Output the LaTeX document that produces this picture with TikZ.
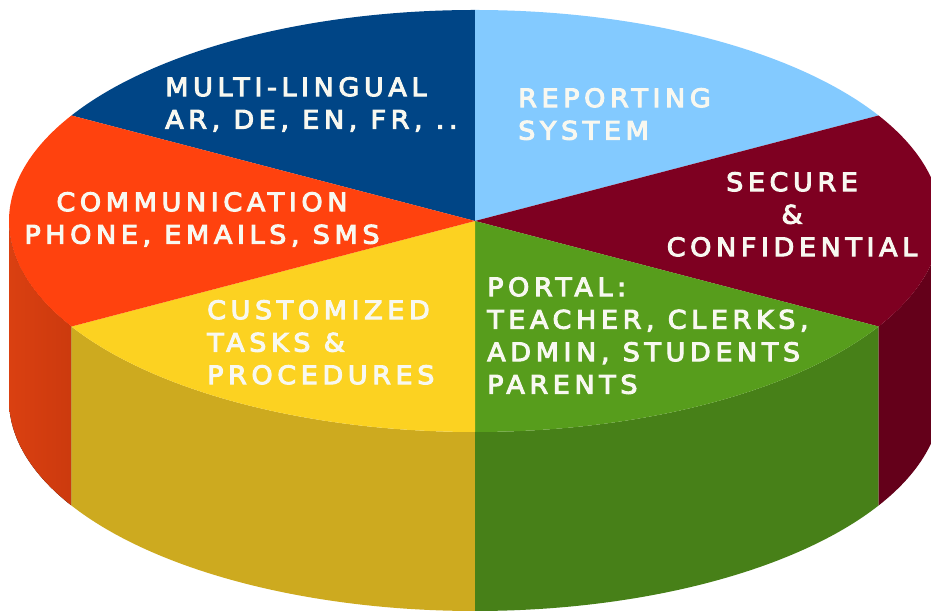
\documentclass[tikz,border=0pt]{standalone}
\usepackage{fontspec}
\usetikzlibrary{calc}
\newfontfamily\lblfont[LetterSpace=18,FakeBold=4,FakeStretch=1.06]{DejaVu Sans}
\definecolor{cblue}{HTML}{004586}
\definecolor{clight}{HTML}{83CAFF}
\definecolor{cmaroon}{HTML}{7E0021}
\definecolor{cgreen}{HTML}{579D1C}
\definecolor{cyellow}{HTML}{FCD221}
\definecolor{corange}{HTML}{FF420E}
\definecolor{sorange}{HTML}{CC3A0E}
\definecolor{sorangel}{HTML}{DA4011}
\definecolor{syellow}{HTML}{CDAA1F}
\definecolor{sgreen}{HTML}{478018}
\definecolor{smaroon}{HTML}{64001A}
\definecolor{txt}{HTML}{F8F8F0}
\tikzset{
  lbl/.style={text=txt, inner sep=0pt, font={\lblfont\fontsize{25.5}{32.5}\selectfont}},
}
\begin{document}
\begin{tikzpicture}[x=1pt,y=1pt]
\useasboundingbox (0,0) rectangle (931,615);
\clip (0,0) rectangle (931,615);
\fill[white] (0,0) rectangle (931,615);
\def\rx{466}\def\ry{211}\def\hh{179}
\coordinate (c) at (475,394);
% side walls
\fill[left color=sorangel, right color=sorange] ($(c)+(180:\rx pt and \ry pt)$) arc[start angle=180,end angle=210,x radius=\rx,y radius=\ry]
    -- ++(0,-\hh) arc[start angle=210,end angle=180,x radius=\rx,y radius=\ry] -- cycle;
\foreach \a/\b/\col in {210/270/syellow,270/330/sgreen,330/360/smaroon}{
  \fill[\col] ($(c)+(\a:\rx pt and \ry pt)$) arc[start angle=\a,end angle=\b,x radius=\rx,y radius=\ry]
    -- ++(0,-\hh) arc[start angle=\b,end angle=\a,x radius=\rx,y radius=\ry] -- cycle;
}
% top faces
\foreach \a/\b/\col in {90/150/cblue,30/90/clight,-30/30/cmaroon,-90/-30/cgreen,210/270/cyellow,150/210/corange}{
  \fill[\col] (c) -- ++(\a:\rx pt and \ry pt) arc[start angle=\a,end angle=\b,x radius=\rx,y radius=\ry] -- cycle;
}
\node[lbl, anchor=north west, align=left] (ml) at (165,538) {MULTI-LINGUAL\\AR, DE, EN, FR, ..};
\node[lbl, anchor=north west, align=left] (rep) at (518,527) {REPORTING\\SYSTEM};
\node[lbl, anchor=north, align=center] (com) at (202,423) {COMMUNICATION\\PHONE, EMAILS, SMS};
\node[lbl, anchor=north, align=center] (sec) at (792,443) {SECURE\\\&\\CONFIDENTIAL};
\node[lbl, anchor=north west, align=left] (cus) at (207,315) {CUSTOMIZED\\TASKS \&\\PROCEDURES};
\node[lbl, anchor=north west, align=left] (por) at (487,338) {PORTAL:\\TEACHER, CLERKS,\\ADMIN, STUDENTS\\PARENTS};
\end{tikzpicture}
\end{document}
